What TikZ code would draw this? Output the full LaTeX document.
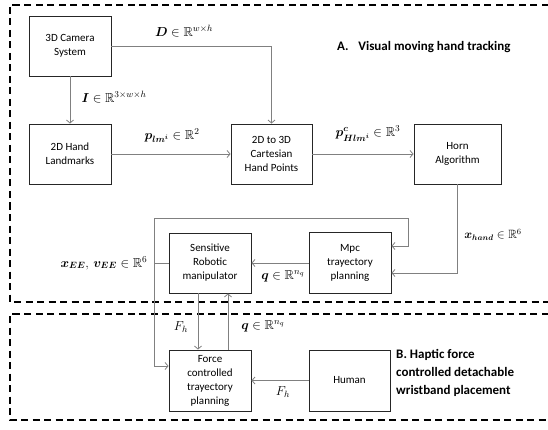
\RequirePackage{fix-cm}
\documentclass[tikz,border=0pt]{standalone}
\usepackage{amsmath,amssymb,bm}
\usepackage{fontspec}
\DeclareFontFamily{U}{msb}{}
\DeclareFontShape{U}{msb}{m}{n}{<-> msbm10}{}
\newfontfamily\boxfont{Carlito}
\usetikzlibrary{arrows.meta}
\begin{document}
\begin{tikzpicture}[x=1pt,y=-1pt,
  blk/.style={draw=black!85,line width=0.9pt,rectangle,inner sep=0pt,minimum width=82pt,minimum height=60pt,align=center,font=\boxfont\fontsize{11}{14}\selectfont},
  conn/.style={draw=black!50,line width=0.9pt},
  arr/.style={conn,-{Straight Barb[length=3pt,width=7pt,line width=0.8pt]}},
  lbl/.style={inner sep=0pt,font=\fontsize{13}{15}\selectfont},
  sect/.style={draw=black,line width=1.6pt,dash pattern=on 7pt off 4.5pt},
  ttl/.style={inner sep=0pt,font=\boxfont\bfseries\fontsize{13}{18}\selectfont,align=left}]
\useasboundingbox (0,0) rectangle (548,430);
\begin{scope}
\clip (0,0) rectangle (548,430);
\draw[sect] (560,5) -- (10,5) -- (10,302) -- (560,302);
\draw[sect] (560,314) -- (10,314) -- (10,420) -- (560,420);
\end{scope}
% blocks
\node[blk] (cam) at (70,46) {3D Camera\\System};
\node[blk] (lmk) at (70,154) {2D Hand\\Landmarks};
\node[blk,minimum width=81pt] (c23) at (271.5,154) {2D to 3D\\Cartesian\\Hand Points};
\node[blk,minimum width=87pt] (horn) at (457.5,154) {Horn\\Algorithm};
\node[blk] (sens) at (210,263) {Sensitive\\Robotic\\manipulator};
\node[blk,minimum height=61pt] (mpc) at (350,263) {Mpc\\trayectory\\planning};
\node[blk,minimum height=61pt] (force) at (210,380.5) {Force\\controlled\\trayectory\\planning};
\node[blk,minimum width=81pt,minimum height=61pt] (human) at (349.5,380.5) {Human};
% connectors
\draw[arr] (cam) -- (lmk);
\draw[arr] (cam.east) -| (c23.north);
\draw[arr] (lmk) -- (c23);
\draw[arr] (c23) -- (horn);
\draw[arr] (horn.south) |- ([yshift=-10pt]mpc.east);
\coordinate (fb) at (154,263);
\draw[arr] (sens.west) -- (fb) -- (154,218) -| (408,246) -- ([yshift=17pt]mpc.east);
\draw[arr] (fb) -- (154,366) -- ([yshift=14.5pt]force.west);
\draw[arr] (mpc.west) -- (sens.east);
\draw[arr] ([xshift=-12pt]sens.south) -- ([xshift=-12pt]force.north);
\draw[arr] ([xshift=18pt]force.north) -- ([xshift=18pt]sens.south);
\draw[arr] (human.west) -- (force.east);
% labels
\node[lbl] (lD) at (184,31) {$\bm{D}\in\mathbb{R}^{w\times h}$};
\node[lbl] (lI) at (114,97) {$\bm{I}\in\mathbb{R}^{3\times w\times h}$};
\node[lbl] (lp) at (172,136) {$\bm{p_{lm^i}}\in\mathbb{R}^{2}$};
\node[lbl] (lpc) at (368,134) {$\bm{p^{c}_{Hlm^i}}\in\mathbb{R}^{3}$};
\node[lbl,font=\fontsize{12}{14}\selectfont] (lx) at (493,235) {$\bm{x_{hand}}\in\mathbb{R}^{6}$};
\node[lbl] (lee) at (104,263) {$\bm{x_{EE}},\,\bm{v_{EE}}\in\mathbb{R}^{6}$};
\node[lbl] (lq1) at (283,276) {$\bm{q}\in\mathbb{R}^{n_q}$};
\node[lbl] (lF1) at (181,327) {$F_h$};
\node[lbl] (lq2) at (263,326) {$\bm{q}\in\mathbb{R}^{n_q}$};
\node[lbl] (lF2) at (283,392) {$F_h$};
% titles
\node[ttl,anchor=west] (tA) at (337,47) {A.\hspace{0.75em}Visual moving hand tracking};
\node[ttl,anchor=west] (tB) at (396,373) {B. Haptic force\\controlled detachable\\wristband placement};
\end{tikzpicture}
\end{document}
